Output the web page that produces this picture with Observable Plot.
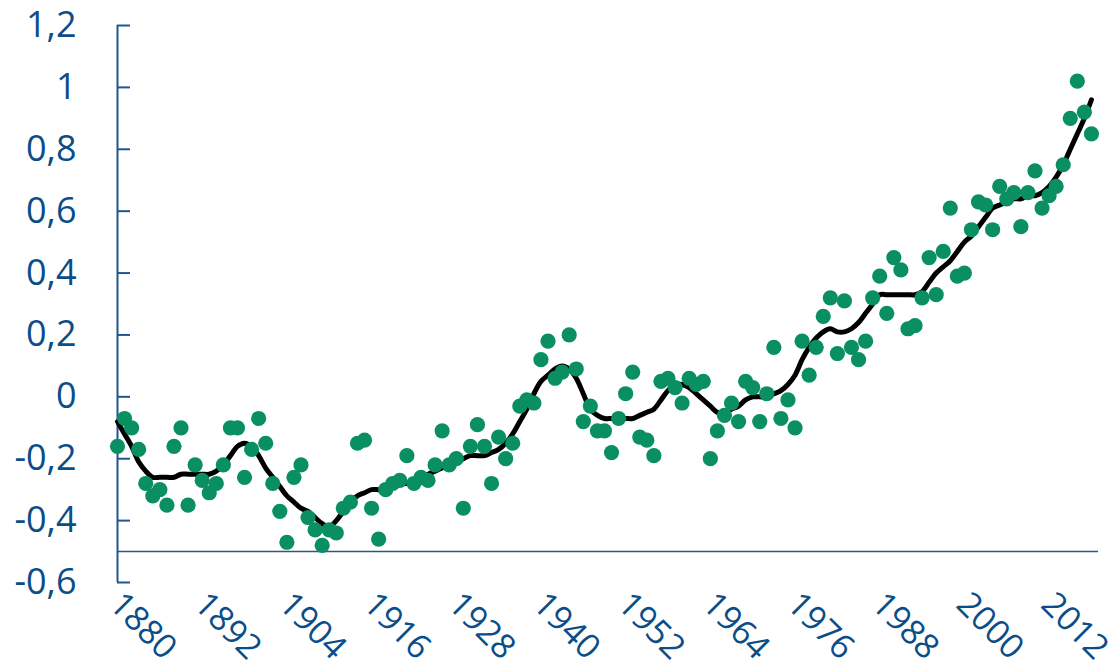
<!DOCTYPE html>
<html>
<head>
<meta charset="utf-8">
<script src="https://cdn.jsdelivr.net/npm/d3@7"></script>
<script src="https://cdn.jsdelivr.net/npm/@observablehq/plot@0.6"></script>
<style>
  html, body { margin: 0; padding: 0; background: #ffffff; }
  #chart { width: 1120px; height: 670px; }
</style>
</head>
<body>
<div id="chart"></div>
<script>
const startYear = 1880;
const endYear = 2018;

// Annual anomaly (dots), 1880..2018
const annual = [
  -0.16, -0.07, -0.10, -0.17, -0.28, -0.32, -0.30, -0.35, -0.16, -0.10,
  -0.35, -0.22, -0.27, -0.31, -0.28, -0.22, -0.10, -0.10, -0.26, -0.17,
  -0.07, -0.15, -0.28, -0.37, -0.47, -0.26, -0.22, -0.39, -0.43, -0.48,
  -0.43, -0.44, -0.36, -0.34, -0.15, -0.14, -0.36, -0.46, -0.30, -0.28,
  -0.27, -0.19, -0.28, -0.26, -0.27, -0.22, -0.11, -0.22, -0.20, -0.36,
  -0.16, -0.09, -0.16, -0.28, -0.13, -0.20, -0.15, -0.03, -0.01, -0.02,
   0.12,  0.18,  0.06,  0.08,  0.20,  0.09, -0.08, -0.03, -0.11, -0.11,
  -0.18, -0.07,  0.01,  0.08, -0.13, -0.14, -0.19,  0.05,  0.06,  0.03,
  -0.02,  0.06,  0.04,  0.05, -0.20, -0.11, -0.06, -0.02, -0.08,  0.05,
   0.03, -0.08,  0.01,  0.16, -0.07, -0.01, -0.10,  0.18,  0.07,  0.16,
   0.26,  0.32,  0.14,  0.31,  0.16,  0.12,  0.18,  0.32,  0.39,  0.27,
   0.45,  0.41,  0.22,  0.23,  0.32,  0.45,  0.33,  0.47,  0.61,  0.39,
   0.40,  0.54,  0.63,  0.62,  0.54,  0.68,  0.64,  0.66,  0.55,  0.66,
   0.73,  0.61,  0.65,  0.68,  0.75,  0.90,  1.02,  0.92,  0.85
];

// Smoothed curve (black line), 1880..2018
const smoothed = [
  -0.08, -0.12, -0.16, -0.21, -0.24, -0.26, -0.26, -0.26, -0.26, -0.25,
  -0.25, -0.25, -0.25, -0.25, -0.24, -0.22, -0.19, -0.16, -0.15, -0.16,
  -0.19, -0.23, -0.26, -0.29, -0.32, -0.34, -0.36, -0.37, -0.39, -0.41,
  -0.42, -0.40, -0.37, -0.34, -0.32, -0.31, -0.30, -0.30, -0.30, -0.29,
  -0.28, -0.28, -0.27, -0.26, -0.25, -0.24, -0.23, -0.22, -0.21, -0.20,
  -0.19, -0.19, -0.19, -0.18, -0.17, -0.15, -0.12, -0.08, -0.04,  0.01,
   0.05,  0.07,  0.09,  0.10,  0.09,  0.06,  0.01, -0.04, -0.06, -0.07,
  -0.07, -0.07, -0.07, -0.07, -0.06, -0.05, -0.04, -0.01,  0.02,  0.04,
   0.04,  0.03,  0.01, -0.01, -0.03, -0.05, -0.05, -0.04, -0.03, -0.01,
   0.00,  0.00,  0.00,  0.01,  0.02,  0.04,  0.07,  0.12,  0.16,  0.19,
   0.21,  0.22,  0.21,  0.21,  0.22,  0.24,  0.27,  0.30,  0.33,  0.33,
   0.33,  0.33,  0.33,  0.33,  0.34,  0.37,  0.40,  0.42,  0.44,  0.47,
   0.50,  0.52,  0.55,  0.58,  0.61,  0.62,  0.63,  0.64,  0.64,  0.65,
   0.65,  0.66,  0.68,  0.71,  0.75,  0.80,  0.85,  0.90,  0.96
];

const xTicks = [1880, 1892, 1904, 1916, 1928, 1940, 1952, 1964, 1976, 1988, 2000, 2012];
const yTicks = [-0.6, -0.4, -0.2, 0, 0.2, 0.4, 0.6, 0.8, 1, 1.2];
const yTickLabels = ["-0,6", "-0,4", "-0,2", "0", "0,2", "0,4", "0,6", "0,8", "1", "1,2"];
const baselineValue = -0.5;

const dotData = annual.map((v, i) => ({year: startYear + i, value: v}));
const lineData = smoothed.map((v, i) => ({year: startYear + i, value: v}));

const textColor = "#0a4d89";
const axisColor = "#1f5790";
const dotColor = "#0a8f63";
const font = "'Open Sans', Lato, sans-serif";

const chart = Plot.plot({
  width: 1120,
  height: 670,
  marginLeft: 117,
  marginRight: 22,
  marginTop: 25,
  marginBottom: 88,
  style: {fontFamily: font, background: "#ffffff"},
  x: {domain: [startYear, endYear + 1], axis: null},
  y: {domain: [-0.6, 1.2], axis: null},
  marks: [
    // horizontal baseline at -0.5
    Plot.ruleY([baselineValue], {stroke: "#2d5686", strokeWidth: 1.6}),
    // vertical axis line
    Plot.ruleX([startYear], {y1: -0.6, y2: 1.2, stroke: axisColor, strokeWidth: 2}),
    // y tick marks (inward)
    Plot.axisY({ticks: yTicks, tickSize: 13, dx: 13, text: null, label: null, stroke: axisColor, strokeWidth: 2}),
    // y tick labels
    Plot.axisY({
      ticks: yTicks, tickSize: 0, tickPadding: 41, label: null,
      tickFormat: d => yTickLabels[yTicks.indexOf(d)],
      fontSize: 36, fill: textColor, textAnchor: "end"
    }),
    // x tick labels (rotated)
    Plot.text(xTicks, {
      x: d => d, text: d => String(d),
      frameAnchor: "bottom", dy: 16, dx: -2,
      rotate: 45, textAnchor: "start", lineAnchor: "middle",
      fontSize: 34, fill: textColor
    }),
    // smoothed line
    Plot.line(lineData, {x: "year", y: "value", stroke: "#000000", strokeWidth: 5, curve: "catmull-rom", strokeLinecap: "round"}),
    // annual dots
    Plot.dot(dotData, {x: "year", y: "value", r: 7.6, fill: dotColor, stroke: "none"})
  ]
});

document.getElementById("chart").appendChild(chart);
</script>
</body>
</html>
